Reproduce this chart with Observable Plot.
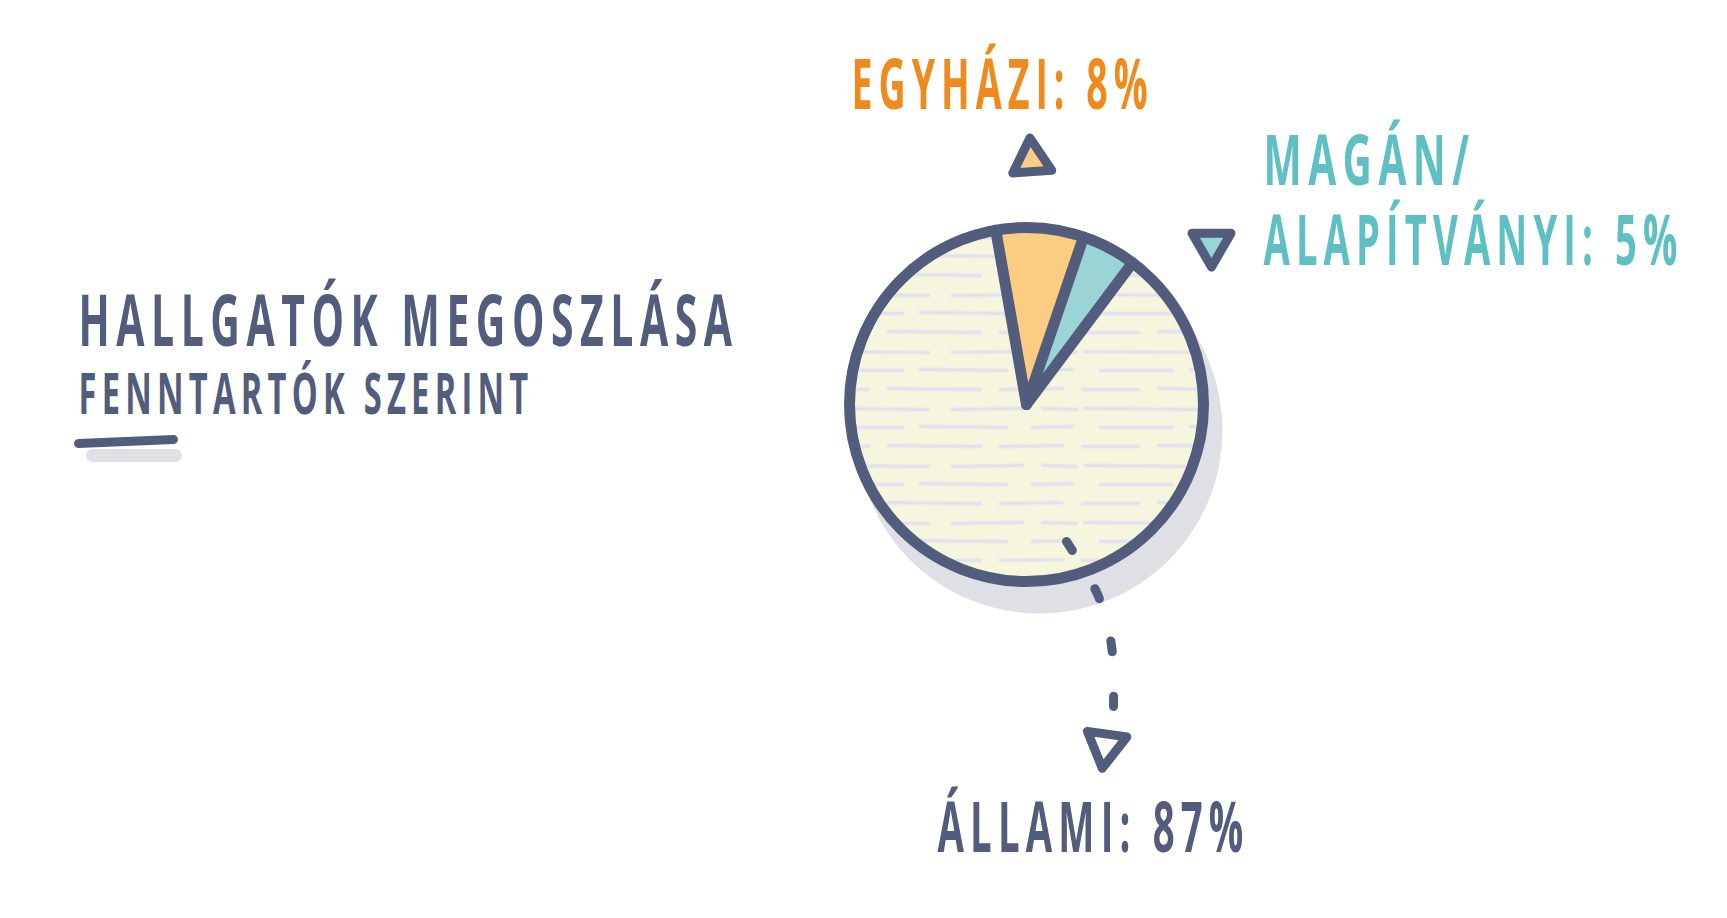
<!DOCTYPE html>
<html>
<head>
<meta charset="utf-8">
<script src="https://cdn.jsdelivr.net/npm/d3@7"></script>
<script src="https://cdn.jsdelivr.net/npm/@observablehq/plot@0.6"></script>
<style>
  html, body { margin: 0; padding: 0; background: #ffffff; overflow: hidden; }
  #chart svg { display: block; }
</style>
</head>
<body>
<div id="chart"></div>
<script>
// ---------------- data ----------------
const categories = ["Egyházi", "Magán/\nalapítványi", "Állami"];
const shares = [8, 5, 87];
const titleText = "Hallgatók megoszlása";
const subtitleText = "fenntartók szerint";

// ---------------- styles ----------------
const W = 1727, H = 918;
const ink = "#525c7c";
const sliceFill = ["#fbcd83", "#9ad4d4", "url(#hatch)"];
const labelFill = ["#f08a1c", "#5ec0c2", "#525c7c"];
const markerFill = ["#fbcd83", "#9ad4d4", "#ffffff"];
const shadowFill = "#dfdfe6";
const font = "'Open Sans', 'Noto Sans', sans-serif";

// ---------------- layout ----------------
const pie = {cx: 1026, cy: 404, r: 177, startDeg: -10, stroke: 11,
             shadowX: 1039, shadowY: 430, shadowR: 183};
const markerLayout = [
  {x: 1031, y: 160, rot: -4,  R: 22.5},
  {x: 1211, y: 244, rot: 180, R: 22.5},
  {x: 1105, y: 745, rot: 188, R: 23}
];
const labelLayout = [
  [{x: 851, y: 108, w: 302}],
  [{x: 1263, y: 184, w: 212}, {x: 1263, y: 264, w: 420}],
  [{x: 937, y: 851, w: 312}]
];
const leaderLayout = [[1066, 541], [1098, 596], [1111, 645], [1113, 706]];
const titleLayout = {x: 78, y: 345, w: 660, size: 71};
const subtitleLayout = {x: 78, y: 413, w: 455, size: 58};
const labelSize = 69;
const underline = [{x1: 78, y1: 443, x2: 173, y2: 439, w: 9, c: ink},
                   {x1: 92, y1: 455, x2: 175, y2: 455, w: 13, c: shadowFill}];

// ---------------- geometry from data ----------------
const a0 = pie.startDeg * Math.PI / 180;
const arcs = d3.pie().sort(null).startAngle(a0).endAngle(a0 + 2 * Math.PI)(shares);
const polar = (a, r, cx = pie.cx, cy = pie.cy) => [cx + r * Math.sin(a), cy - r * Math.cos(a)];

const sliceMarks = arcs.map((arc, i) => {
  const n = Math.max(2, Math.ceil((arc.endAngle - arc.startAngle) / (Math.PI / 180)));
  const pts = [{x: pie.cx, y: pie.cy}];
  for (let k = 0; k <= n; k++) {
    const [x, y] = polar(arc.startAngle + (arc.endAngle - arc.startAngle) * k / n, pie.r);
    pts.push({x, y});
  }
  pts.push({x: pie.cx, y: pie.cy});
  return Plot.line(pts, {x: "x", y: "y", fill: sliceFill[i], stroke: "none"});
});

const spokes = arcs.map(arc => {
  const [x2, y2] = polar(arc.startAngle, pie.r);
  return {x1: pie.cx, y1: pie.cy, x2, y2};
});

const triPts = markerLayout.flatMap((m, i) => {
  const pts = [];
  for (let k = 0; k <= 3; k++) {
    const a = (m.rot + 120 * (k % 3)) * Math.PI / 180;
    const [x, y] = polar(a, m.R, m.x, m.y);
    pts.push({i, x, y, fill: markerFill[i]});
  }
  return pts;
});

const labelRows = [];
categories.forEach((c, i) => {
  const lines = `${c.toLocaleUpperCase("hu-HU")}: ${shares[i]}%`.split("\n");
  lines.forEach((s, j) => {
    const L = labelLayout[i][j];
    labelRows.push({text: s, x: L.x, y: L.y, w: L.w, fill: labelFill[i]});
  });
});

const titleRows = [{text: titleText.toLocaleUpperCase("hu-HU"), ...titleLayout}];
const subtitleRows = [{text: subtitleText.toLocaleUpperCase("hu-HU"), ...subtitleLayout}];
const fitWidths = new Map([...labelRows, ...titleRows, ...subtitleRows].map(d => [d.text, d.w]));

const leaderRows = leaderLayout.map(([x, y]) => ({x, y}));

// ---------------- plot ----------------
const textStyle = {fontFamily: font, fontWeight: 700, textAnchor: "start", lineAnchor: "bottom"};
const svg = Plot.plot({
  width: W, height: H,
  margin: 0,
  x: {domain: [0, W], range: [0, W], axis: null},
  y: {domain: [0, H], range: [0, H], axis: null},
  color: {type: "identity"},
  style: {background: "#ffffff"},
  marks: [
    // shadow
    Plot.dot([{x: pie.shadowX, y: pie.shadowY}], {x: "x", y: "y", r: pie.shadowR, fill: shadowFill, stroke: "none"}),
    // slices
    ...sliceMarks,
    // slice boundaries
    Plot.link(spokes, {x1: "x1", y1: "y1", x2: "x2", y2: "y2", stroke: ink, strokeWidth: pie.stroke, strokeLinecap: "round"}),
    // outline
    Plot.dot([{x: pie.cx, y: pie.cy}], {x: "x", y: "y", r: pie.r, fill: "none", stroke: ink, strokeWidth: pie.stroke}),
    // leader to Állami label
    Plot.line(leaderRows, {x: "x", y: "y", curve: "catmull-rom", stroke: ink, strokeWidth: 9,
      strokeLinecap: "round", strokeDasharray: "11 44"}),
    // triangle markers
    Plot.line(triPts, {x: "x", y: "y", z: "i", fill: "fill", stroke: ink, strokeWidth: 9, strokeLinejoin: "round"}),
    // labels
    Plot.text(labelRows, {x: "x", y: "y", text: "text", fill: "fill", fontSize: labelSize, ...textStyle}),
    // title + subtitle
    Plot.text(titleRows, {x: "x", y: "y", text: "text", fill: ink, fontSize: titleLayout.size, ...textStyle}),
    Plot.text(subtitleRows, {x: "x", y: "y", text: "text", fill: ink, fontSize: subtitleLayout.size, ...textStyle}),
    // underline
    Plot.link(underline.slice().reverse(), {x1: "x1", y1: "y1", x2: "x2", y2: "y2", stroke: "c", strokeWidth: d => d.w,
      strokeLinecap: "round"})
  ]
});

// hatch pattern for the main slice
const ns = "http://www.w3.org/2000/svg";
const defs = document.createElementNS(ns, "defs");
defs.innerHTML = `
<pattern id="hatch" patternUnits="userSpaceOnUse" x="0" y="0" width="270" height="57">
  <rect width="270" height="57" fill="#f5f6dd"/>
  <g stroke="#e3e1ef" stroke-width="3.5" stroke-linecap="round" fill="none">
    <path d="M4 9 L118 10"/><path d="M142 10 L212 9"/><path d="M232 9 L266 10"/>
    <path d="M20 28 L92 28"/><path d="M110 27 L196 28"/><path d="M222 28 L262 27"/>
    <path d="M2 47 L58 47"/><path d="M78 46 L170 47"/><path d="M190 47 L252 46"/>
  </g>
</pattern>`;
svg.insertBefore(defs, svg.firstChild);

// hand-lettered look: narrow, spaced capitals fitted to their measured widths
svg.querySelectorAll("text").forEach(t => {
  const w = fitWidths.get(t.textContent);
  if (w) {
    t.setAttribute("letter-spacing", "0.16em");
    t.setAttribute("textLength", w);
    t.setAttribute("lengthAdjust", "spacingAndGlyphs");
  }
});

document.getElementById("chart").appendChild(svg);
</script>
</body>
</html>
